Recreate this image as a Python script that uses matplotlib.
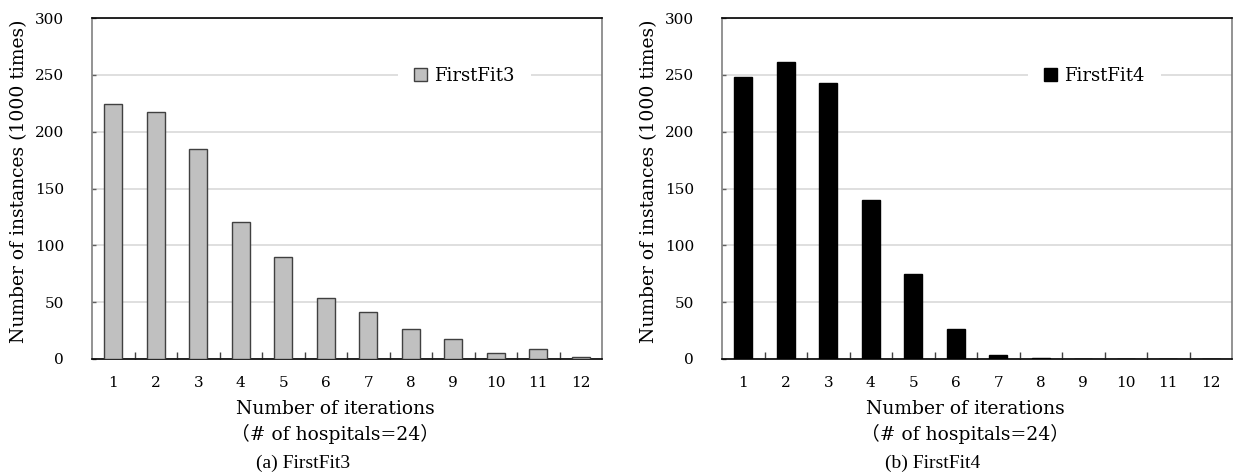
import matplotlib
matplotlib.use("Agg")
import matplotlib.pyplot as plt
import numpy as np

iterations = [1, 2, 3, 4, 5, 6, 7, 8, 9, 10, 11, 12]
firstfit3 = [224, 217, 184.5, 120.5, 90, 54, 41.5, 26.5, 18, 5.5, 9, 2]
firstfit4 = [248.5, 261, 242.5, 140, 74.5, 26.5, 3.8, 1, 0, 0, 0, 0]
yticks = [0, 50, 100, 150, 200, 250, 300]
series = [
    ("FirstFit3", firstfit3, "#c0c0c0", "#404040", "(a) FirstFit3"),
    ("FirstFit4", firstfit4, "#000000", "#000000", "(b) FirstFit4"),
]

serif = ["DejaVu Serif", "Noto Sans CJK JP"]
cap_font = ["Liberation Serif", "DejaVu Serif"]

fig = plt.figure(figsize=(12.33, 4.75), dpi=100)
lefts = [92, 722]
W, H = 1233, 475
for (name, vals, fc, ec, cap), left in zip(series, lefts):
    ax = fig.add_axes([left / W, 116 / H, 510 / W, 341 / H])
    x = np.arange(len(iterations))
    ax.bar(x, vals, width=0.42, color=fc, edgecolor=ec, linewidth=1.0,
           label=name, zorder=3)
    ax.set_xlim(-0.5, len(iterations) - 0.5)
    ax.set_ylim(0, 300)
    ax.set_yticks(yticks)
    ax.set_yticklabels([str(v) for v in yticks], fontfamily=serif, fontsize=11)
    ax.set_xticks(x)
    ax.set_xticklabels([str(i) for i in iterations], fontfamily=serif, fontsize=11)
    ax.tick_params(axis="x", which="major", length=0, pad=12)
    ax.set_xticks(np.arange(0.5, len(iterations) - 1, 1), minor=True)
    ax.tick_params(axis="x", which="minor", direction="in", length=5, width=1, color="#404040")
    ax.tick_params(axis="y", direction="in", length=3, width=1, color="#606060", pad=20)
    ax.grid(axis="y", color="#d9d9d9", linewidth=1.2, zorder=0)
    for s in ["left", "right"]:
        ax.spines[s].set_color("#808080")
        ax.spines[s].set_linewidth(1.2)
    for s in ["top", "bottom"]:
        ax.spines[s].set_color("#000000")
        ax.spines[s].set_linewidth(1.2)
    ax.set_ylabel("Number of instances (1000 times)", fontfamily=serif, fontsize=13.5)
    ax.yaxis.set_label_coords(-0.126, 0.52)
    fig.text((left + 243) / W, (H - 409) / H,
             "Number of iterations", ha="center", va="center",
             fontfamily=serif, fontsize=13.5)
    fig.text((left + 243) / W, (H - 434) / H,
             "（# of hospitals=24）", ha="center", va="center",
             fontfamily=serif, fontsize=13.5)
    leg = ax.legend(loc="center", bbox_to_anchor=(0.73, 0.831), frameon=True,
                    prop={"family": serif, "size": 13}, handlelength=0.7,
                    handleheight=0.7, handletextpad=0.4, borderpad=0.3,
                    borderaxespad=0)
    leg.get_frame().set_edgecolor("none")
    leg.get_frame().set_facecolor("white")
    leg.get_frame().set_alpha(1.0)
    leg.get_frame().set_boxstyle("square", pad=0.6)
    fig.text((left + 211) / W, (H - 463) / H, cap, ha="center", va="center",
             fontfamily=cap_font, fontsize=14)

fig.savefig("out.png", dpi=100)
